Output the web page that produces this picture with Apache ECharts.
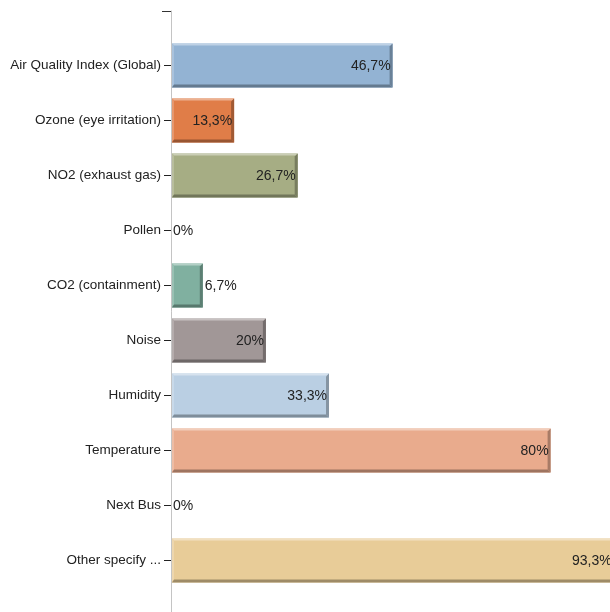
<!DOCTYPE html>
<html>
<head>
<meta charset="utf-8">
<script src="https://cdn.jsdelivr.net/npm/echarts@6/dist/echarts.min.js"></script>
<style>html,body{margin:0;padding:0;background:#fff;}#c{width:610px;height:612px;}</style>
</head>
<body>
<div id="c"></div>
<script>
const categories = ['Air Quality Index (Global)', 'Ozone (eye irritation)', 'NO2 (exhaust gas)', 'Pollen', 'CO2 (containment)', 'Noise', 'Humidity', 'Temperature', 'Next Bus', 'Other specify ...'];
const values = [46.7, 13.3, 26.7, 0, 6.7, 20, 33.3, 80, 0, 93.3];
const colors = ['#93b3d3', '#e07d48', '#a6ad84', '#9fb7c9', '#80b0a0', '#a19797', '#bacfe3', '#e9ab8d', '#c0c0c0', '#e8cc98'];

function mix(hex, target, t) {
  const n = parseInt(hex.slice(1), 16);
  const r = (n >> 16) & 255, g = (n >> 8) & 255, b = n & 255;
  const f = c => Math.round(c + (target - c) * t);
  return 'rgb(' + f(r) + ',' + f(g) + ',' + f(b) + ')';
}
function fmt(v) { return String(v).replace('.', ',') + '%'; }

const chart = echarts.init(document.getElementById('c'), null, {renderer: 'canvas'});
chart.setOption({
  animation: false,
  grid: [
    {left: 171, width: 474.5, top: 38, height: 550, outerBoundsMode: 'none', containLabel: false},
    {left: 171, width: 10, top: 11, height: 700, outerBoundsMode: 'none', containLabel: false}
  ],
  xAxis: [
    {gridIndex: 0, type: 'value', min: 0, max: 100, show: false},
    {gridIndex: 1, type: 'value', min: 0, max: 1, show: false}
  ],
  yAxis: [
    {
      gridIndex: 0, type: 'category', data: categories, inverse: true,
      axisLine: {show: false},
      axisTick: {show: true, alignWithLabel: true, length: 7, lineStyle: {color: '#222', width: 1}},
      axisLabel: {margin: 10, color: '#222', fontSize: 13.5, fontFamily: 'Liberation Sans, Arial, sans-serif'},
      splitLine: {show: false}
    },
    {
      gridIndex: 1, type: 'value', min: 0, max: 1, interval: 1, inverse: true,
      axisLine: {show: true, lineStyle: {color: '#c4c4c4', width: 1}},
      axisTick: {show: true, length: 9, lineStyle: {color: '#333', width: 1}},
      axisLabel: {show: false},
      splitLine: {show: false}
    }
  ],
  series: [{
    type: 'custom',
    xAxisIndex: 0, yAxisIndex: 0,
    data: values.map((v, i) => [v, i]),
    encode: {x: 0, y: 1},
    clip: false,
    renderItem: function (params, api) {
      const v = api.value(0);
      const idx = api.value(1);
      const start = api.coord([0, idx]);
      const end = api.coord([v, idx]);
      const h = api.size([0, 1])[1] * 0.8;
      const x0 = start[0] + 1, x1 = end[0], y0 = start[1] - h / 2, y1 = start[1] + h / 2;
      const c = colors[params.dataIndex];
      const children = [];
      const w = x1 - x0;
      if (v > 0) {
        children.push({type: 'rect', shape: {x: x0, y: y0, width: w, height: h}, style: {fill: c}});
        children.push({type: 'polygon', shape: {points: [[x0, y0], [x1, y0], [x1 - 2, y0 + 2], [x0 + 2, y0 + 2]]}, style: {fill: mix(c, 255, 0.4)}});
        children.push({type: 'polygon', shape: {points: [[x0, y0], [x0 + 2, y0 + 2], [x0 + 2, y1 - 3], [x0, y1]]}, style: {fill: mix(c, 255, 0.2)}});
        children.push({type: 'polygon', shape: {points: [[x0, y1], [x0 + 2, y1 - 3], [x1 - 3, y1 - 3], [x1, y1]]}, style: {fill: mix(c, 0, 0.32)}});
        children.push({type: 'polygon', shape: {points: [[x1, y0], [x1, y1], [x1 - 3, y1 - 3], [x1 - 3, y0 + 3]]}, style: {fill: mix(c, 0, 0.28)}});
      }
      const inside = v >= 10;
      children.push({
        type: 'text',
        style: {
          text: fmt(v),
          x: inside ? x1 - 2 : x1 + 2,
          y: start[1] + 0.5,
          align: inside ? 'right' : 'left',
          verticalAlign: 'middle',
          fill: '#222',
          font: '14px "Liberation Sans", Arial, sans-serif'
        }
      });
      return {type: 'group', children: children};
    }
  }]
});
</script>
</body>
</html>
